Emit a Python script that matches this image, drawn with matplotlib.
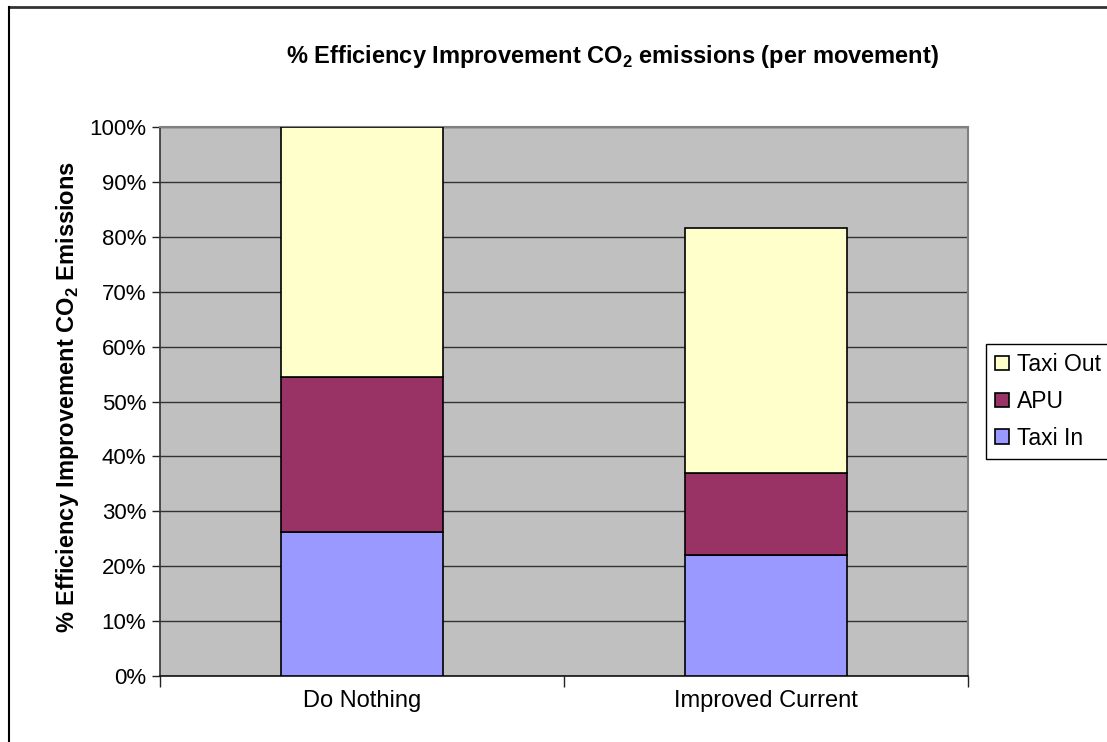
import matplotlib
matplotlib.use("Agg")
import matplotlib.pyplot as plt
from matplotlib.lines import Line2D
from matplotlib.ticker import FixedLocator, PercentFormatter

plt.rcParams['font.family'] = ['Liberation Sans', 'DejaVu Sans']
plt.rcParams['mathtext.fontset'] = 'custom'
plt.rcParams['mathtext.rm'] = 'Liberation Sans'
plt.rcParams['mathtext.bf'] = 'Liberation Sans:bold'

# Scenario data (share of CO2 emissions, %)
scenarios = ["Do Nothing", "Improved Current"]
taxi_in = [26.2, 22.0]
apu = [28.2, 14.9]
taxi_out = [45.6, 44.7]

series_names = ["Taxi In", "APU", "Taxi Out"]
series_colors = ["#9999FF", "#993366", "#FFFFCC"]

fig = plt.figure(figsize=(11.07, 7.42), dpi=100)
ax = fig.add_axes([160 / 1107, 66 / 742, 808 / 1107, 549 / 742])
ax.set_facecolor("#C0C0C0")

x = list(range(len(scenarios)))
bottom = [0.0] * len(scenarios)
handles = []
for name, vals, col in zip(series_names, [taxi_in, apu, taxi_out], series_colors):
    b = ax.bar(x, vals, width=0.4, bottom=bottom, color=col, edgecolor="black",
               linewidth=1.2, label=name, zorder=3)
    handles.append(b)
    bottom = [b0 + v for b0, v in zip(bottom, vals)]

ax.set_xlim(-0.5, len(scenarios) - 0.5)
ax.set_ylim(0, 100)
ax.yaxis.set_major_locator(FixedLocator(range(0, 101, 10)))
ax.yaxis.set_major_formatter(PercentFormatter(decimals=0))
ax.grid(axis="y", color="#333333", linewidth=1.0, zorder=1)

ax.set_xticks(x)
ax.set_xticklabels(scenarios)
ax.set_xticks([-0.5, 0.5, 1.5], minor=True)
ax.tick_params(axis="x", which="major", length=0, pad=10, labelsize=17)
ax.tick_params(axis="x", which="minor", length=8, width=1, direction="out", color="#222222")
ax.tick_params(axis="y", which="major", length=6, width=1, direction="out", pad=4,
               labelsize=16, color="#222222")

for side in ("top", "right"):
    ax.spines[side].set_color("#808080")
    ax.spines[side].set_linewidth(1.5)
ax.spines["left"].set_color("#333333")
ax.spines["bottom"].set_color("#111111")
ax.spines["left"].set_linewidth(1.2)
ax.spines["bottom"].set_linewidth(1.2)

fig.text(613 / 1107, 1 - 56 / 742,
         r"% Efficiency Improvement CO$_\mathbf{2}$ emissions (per movement)",
         ha="center", va="center", fontsize=17, fontweight="bold")
fig.text(68 / 1107, 1 - 397 / 742,
         r"% Efficiency Improvement CO$_\mathbf{2}$ Emissions",
         ha="center", va="center", rotation=90, fontsize=17, fontweight="bold")

leg = fig.legend(handles[::-1], series_names[::-1], loc="upper left",
                 bbox_to_anchor=(986 / 1107, 1 - 344 / 742), fontsize=16.5,
                 frameon=True, fancybox=False, shadow=False, framealpha=1,
                 edgecolor="black", handlelength=0.6, handleheight=0.6,
                 handletextpad=0.35, labelspacing=0.6, borderpad=0.4,
                 borderaxespad=0)
leg.get_frame().set_linewidth(1.0)

# Chart border (top and left edges)
fig.add_artist(Line2D([9 / 1107, 1], [1 - 7 / 742, 1 - 7 / 742],
                      transform=fig.transFigure, color="#333333", linewidth=2))
fig.add_artist(Line2D([9 / 1107, 9 / 1107], [0, 1 - 7 / 742],
                      transform=fig.transFigure, color="black", linewidth=1.5))

fig.savefig("out.png", dpi=100, facecolor="white")
